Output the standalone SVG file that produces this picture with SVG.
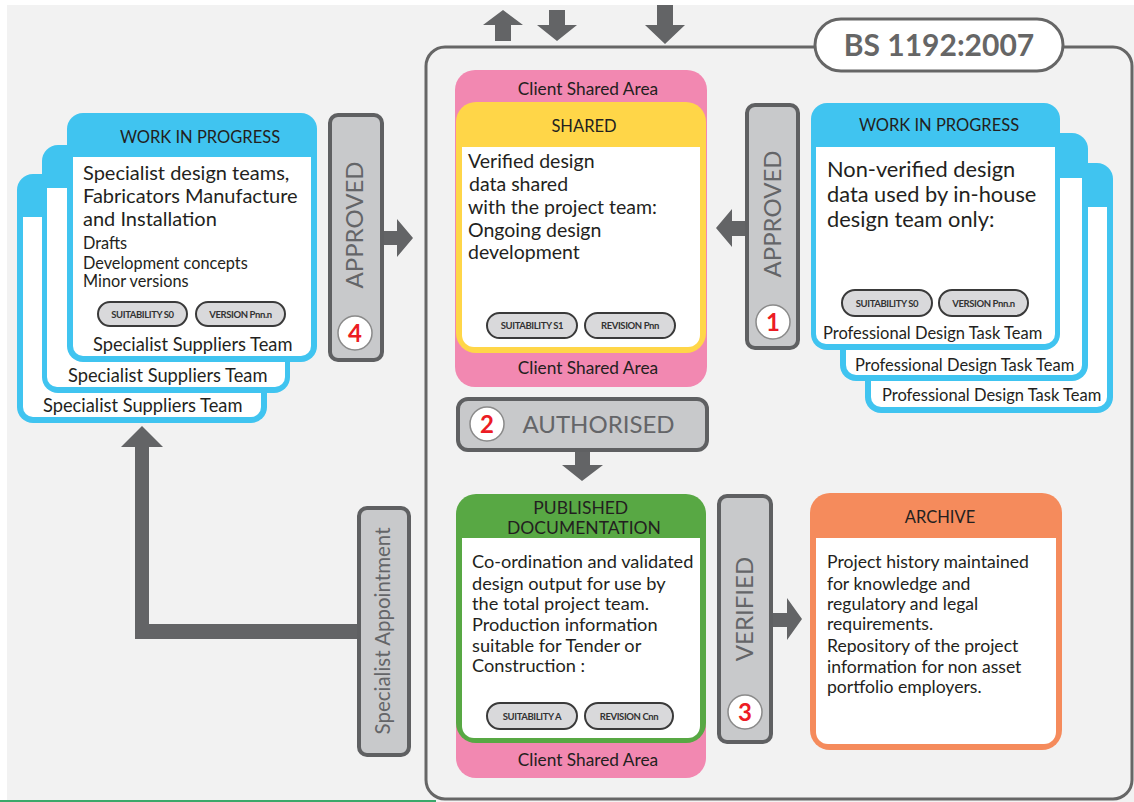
<svg xmlns="http://www.w3.org/2000/svg" width="1134" height="802" viewBox="0 0 1134 802">
  <defs>
    <style>
      .bg { fill: #f2f2f2; }
      .t { font-family: Lato, "Noto Sans", "Liberation Sans", sans-serif; fill: #231f20; }
      .hd { font-size: 16.5px; text-anchor: middle; }
      .mid { text-anchor: middle; }
      .blue { fill: #40c4f0; }
      .pink { fill: #f288b1; }
      .yellow { fill: #ffd648; }
      .green { fill: #58a844; }
      .orange { fill: #f58b5c; }
      .white { fill: #ffffff; }
      .bar { fill: #c8c9cb; stroke: #5f6062; stroke-width: 4; }
      .barlbl { font-family: Lato, "Noto Sans", "Liberation Sans", sans-serif; fill: #646568; font-size: 24px; text-anchor: middle; }
      .arrow { fill: #636466; }
      .num { fill: #ffffff; stroke: #8a8a8a; stroke-width: 1.5; }
      .numtxt { font-family: Lato, "Noto Sans", "Liberation Sans", sans-serif; fill: #ec1c24; font-size: 24px; font-weight: bold; text-anchor: middle; }
      .pill { fill: #d9d9db; stroke: #3a3a3a; stroke-width: 2; }
      .pilltxt { font-family: Lato, "Noto Sans", "Liberation Sans", sans-serif; fill: #333333; font-size: 9.5px; font-weight: bold; letter-spacing: -0.4px; text-anchor: middle; }
      .frame { fill: none; stroke: #666666; stroke-width: 3; }
    </style>
  </defs>

  <!-- page background -->
  <rect x="0" y="0" width="1134" height="802" fill="#ffffff"/>
  <rect class="bg" x="7" y="5" width="1127" height="797"/>
  <line x1="0" y1="801" x2="436" y2="801" stroke="#3aa86a" stroke-width="2"/>

  <!-- BS 1192 process frame -->
  <g id="frame">
    <rect class="frame" x="426" y="47" width="706" height="752" rx="19"/>
    <rect x="815" y="19" width="248" height="52" rx="26" fill="#ffffff" stroke="#666666" stroke-width="3"/>
    <text class="t" x="939" y="56" font-size="30" font-weight="bold" text-anchor="middle" style="fill:#666666">BS 1192:2007</text>
  </g>

  <!-- connectors -->
  <g id="connectors">
    <polygon class="arrow" points="495,41 495,25 483,25 503,10 523,25 511,25 511,41"/>
    <polygon class="arrow" points="549,10 565,10 565,25 577,25 557,41 537,25 549,25"/>
    <polygon class="arrow" points="657,5 673,5 673,25 685,25 665,44 645,25 657,25"/>
    <polygon class="arrow" points="382,231 397,231 397,219 413,238 397,257 397,245 382,245"/>
    <polygon class="arrow" points="749,221 732,221 732,209 716,228 732,247 732,236 749,236"/>
    <polygon class="arrow" points="575,450 590,450 590,465 603,465 582,481 562,465 575,465"/>
    <polygon class="arrow" points="771,613 787,613 787,598 802,619 787,640 787,627 771,627"/>
    <polygon class="arrow" points="359,624 149,624 149,447 163,447 142,426 121,447 135,447 135,639 359,639"/>
  </g>

  <!-- specialist work in progress stack -->
  <g id="wip-specialist">
    <rect class="blue" x="17" y="174" width="250" height="249" rx="16"/>
    <path class="white" d="M23 217 H261 V407 A10 10 0 0 1 251 417 H33 A10 10 0 0 1 23 407 Z"/>
    <text class="t" x="43" y="412" font-size="18.3">Specialist Suppliers Team</text>

    <rect class="blue" x="42" y="145" width="248" height="248" rx="16"/>
    <path class="white" d="M47 188 H285 V377 A10 10 0 0 1 275 387 H57 A10 10 0 0 1 47 377 Z"/>
    <text class="t" x="68" y="382" font-size="18.3">Specialist Suppliers Team</text>

    <rect class="blue" x="67" y="113" width="250" height="249" rx="16"/>
    <path class="white" d="M73 157 H311 V346 A10 10 0 0 1 301 356 H83 A10 10 0 0 1 73 346 Z"/>
    <text class="t hd" x="200" y="143">WORK IN PROGRESS</text>
    <text class="t" font-size="20">
      <tspan x="83" y="180">Specialist design teams,</tspan>
      <tspan x="83" y="203">Fabricators Manufacture</tspan>
      <tspan x="83" y="226">and Installation</tspan>
    </text>
    <text class="t" font-size="16.3">
      <tspan x="83" y="249">Drafts</tspan>
      <tspan x="83" y="269">Development concepts</tspan>
      <tspan x="83" y="287">Minor versions</tspan>
    </text>
    <rect class="pill" x="98" y="302" width="89" height="24" rx="12"/>
    <text class="pilltxt" x="142.5" y="317.5">SUITABILITY S0</text>
    <rect class="pill" x="196" y="302" width="89" height="24" rx="12"/>
    <text class="pilltxt" x="240.5" y="317.5">VERSION Pnn.n</text>
    <text class="t" x="93" y="351" font-size="18.3">Specialist Suppliers Team</text>
  </g>

  <!-- gate 4: approved -->
  <g id="approved-4">
    <rect class="bar" x="330" y="115" width="52" height="245" rx="8"/>
    <text class="barlbl" transform="translate(354,225) rotate(-90)" y="8.5">APPROVED</text>
    <circle class="num" cx="355" cy="333" r="17"/>
    <text class="numtxt" x="355" y="341.5">4</text>
  </g>

  <!-- shared container -->
  <g id="shared">
    <rect class="pink" x="455" y="70" width="252" height="317" rx="20"/>
    <text class="t mid" x="588" y="95" font-size="17.3">Client Shared Area</text>
    <rect class="yellow" x="456" y="102" width="250" height="251" rx="20"/>
    <path class="white" d="M462 147 H700 V335 A12 12 0 0 1 688 347 H474 A12 12 0 0 1 462 335 Z"/>
    <text class="t hd" x="584" y="132" font-size="17">SHARED</text>
    <text class="t" font-size="19.5">
      <tspan x="468" y="168">Verified design</tspan>
      <tspan x="469" y="191">data shared</tspan>
      <tspan x="468" y="214">with the project team:</tspan>
      <tspan x="468" y="237">Ongoing design</tspan>
      <tspan x="468" y="259">development</tspan>
    </text>
    <rect class="pill" x="487" y="313" width="90" height="25" rx="12.5"/>
    <text class="pilltxt" x="532" y="329">SUITABILITY S1</text>
    <rect class="pill" x="585" y="313" width="90" height="25" rx="12.5"/>
    <text class="pilltxt" x="630" y="329">REVISION Pnn</text>
    <text class="t mid" x="588" y="374" font-size="17.3">Client Shared Area</text>
  </g>

  <!-- gate 1: approved -->
  <g id="approved-1">
    <rect class="bar" x="747" y="105" width="51" height="243" rx="8"/>
    <text class="barlbl" transform="translate(772,214) rotate(-90)" y="8.5">APPROVED</text>
    <circle class="num" cx="773" cy="322" r="17"/>
    <text class="numtxt" x="773" y="330.5">1</text>
  </g>

  <!-- professional work in progress stack -->
  <g id="wip-professional">
    <rect class="blue" x="865" y="163" width="248" height="250" rx="16"/>
    <path class="white" d="M871 207 H1107 V397 A10 10 0 0 1 1097 407 H881 A10 10 0 0 1 871 397 Z"/>
    <text class="t" x="882" y="401" font-size="16.5">Professional Design Task Team</text>

    <rect class="blue" x="840" y="133" width="248" height="248" rx="16"/>
    <path class="white" d="M846 178 H1082 V365 A10 10 0 0 1 1072 375 H856 A10 10 0 0 1 846 365 Z"/>
    <text class="t" x="855" y="371" font-size="16.5">Professional Design Task Team</text>

    <rect class="blue" x="811" y="103" width="249" height="247" rx="16"/>
    <path class="white" d="M816 147 H1055 V334 A10 10 0 0 1 1045 344 H826 A10 10 0 0 1 816 334 Z"/>
    <text class="t hd" x="939" y="131">WORK IN PROGRESS</text>
    <text class="t" font-size="21.8">
      <tspan x="827" y="177">Non-verified design</tspan>
      <tspan x="827" y="202">data used by in-house</tspan>
      <tspan x="827" y="227">design team only:</tspan>
    </text>
    <rect class="pill" x="842" y="290" width="90" height="26" rx="13"/>
    <text class="pilltxt" x="887" y="306.5">SUITABILITY S0</text>
    <rect class="pill" x="939" y="290" width="89" height="26" rx="13"/>
    <text class="pilltxt" x="983.5" y="306.5">VERSION Pnn.n</text>
    <text class="t" x="823" y="339" font-size="16.5">Professional Design Task Team</text>
  </g>

  <!-- gate 2: authorised -->
  <g id="authorised-2">
    <rect class="bar" x="458" y="399" width="249" height="51" rx="10"/>
    <circle class="num" cx="487" cy="424" r="17"/>
    <text class="numtxt" x="487" y="432.5">2</text>
    <text class="barlbl" x="598.5" y="433">AUTHORISED</text>
  </g>

  <!-- published documentation -->
  <g id="published">
    <rect class="pink" x="456" y="510" width="250" height="268" rx="20"/>
    <rect class="green" x="456" y="494" width="250" height="249" rx="20"/>
    <path class="white" d="M462 538 H700 V726 A12 12 0 0 1 688 738 H474 A12 12 0 0 1 462 726 Z"/>
    <text class="t mid" font-size="17.5">
      <tspan x="583" y="514">PUBLISHED</tspan>
      <tspan x="584" y="534">DOCUMENTATION</tspan>
    </text>
    <text class="t" font-size="18.2">
      <tspan x="472" y="568">Co-ordination and validated</tspan>
      <tspan x="472" y="590">design output for use by</tspan>
      <tspan x="472" y="610">the total project team.</tspan>
      <tspan x="472" y="631">Production information</tspan>
      <tspan x="472" y="652">suitable for Tender or</tspan>
      <tspan x="472" y="672">Construction :</tspan>
    </text>
    <rect class="pill" x="487" y="703" width="90" height="26" rx="13"/>
    <text class="pilltxt" x="532" y="719.5">SUITABILITY A</text>
    <rect class="pill" x="585" y="703" width="88" height="26" rx="13"/>
    <text class="pilltxt" x="629" y="719.5">REVISION Cnn</text>
    <text class="t mid" x="588" y="766" font-size="17.3">Client Shared Area</text>
  </g>

  <!-- gate 3: verified -->
  <g id="verified-3">
    <rect class="bar" x="719" y="496" width="52" height="246" rx="8"/>
    <text class="barlbl" transform="translate(744,609) rotate(-90)" y="8.5">VERIFIED</text>
    <circle class="num" cx="745" cy="712" r="17"/>
    <text class="numtxt" x="745" y="720.5">3</text>
  </g>

  <!-- archive -->
  <g id="archive">
    <rect class="orange" x="810" y="493" width="252" height="257" rx="20"/>
    <path class="white" d="M816 538 H1056 V732 A12 12 0 0 1 1044 744 H828 A12 12 0 0 1 816 732 Z"/>
    <text class="t hd" x="940" y="523" font-size="17">ARCHIVE</text>
    <text class="t" font-size="17.6">
      <tspan x="827" y="568">Project history maintained</tspan>
      <tspan x="827" y="590">for knowledge and</tspan>
      <tspan x="827" y="610">regulatory and legal</tspan>
      <tspan x="827" y="630">requirements.</tspan>
      <tspan x="827" y="652">Repository of the project</tspan>
      <tspan x="827" y="673">information for non asset</tspan>
      <tspan x="827" y="693">portfolio employers.</tspan>
    </text>
  </g>

  <!-- specialist appointment gate -->
  <g id="specialist-appointment">
    <rect class="bar" x="359" y="508" width="50" height="247" rx="8"/>
    <text class="barlbl" transform="translate(383,631) rotate(-90)" y="7" style="font-size:20.5px">Specialist Appointment</text>
  </g>
</svg>
